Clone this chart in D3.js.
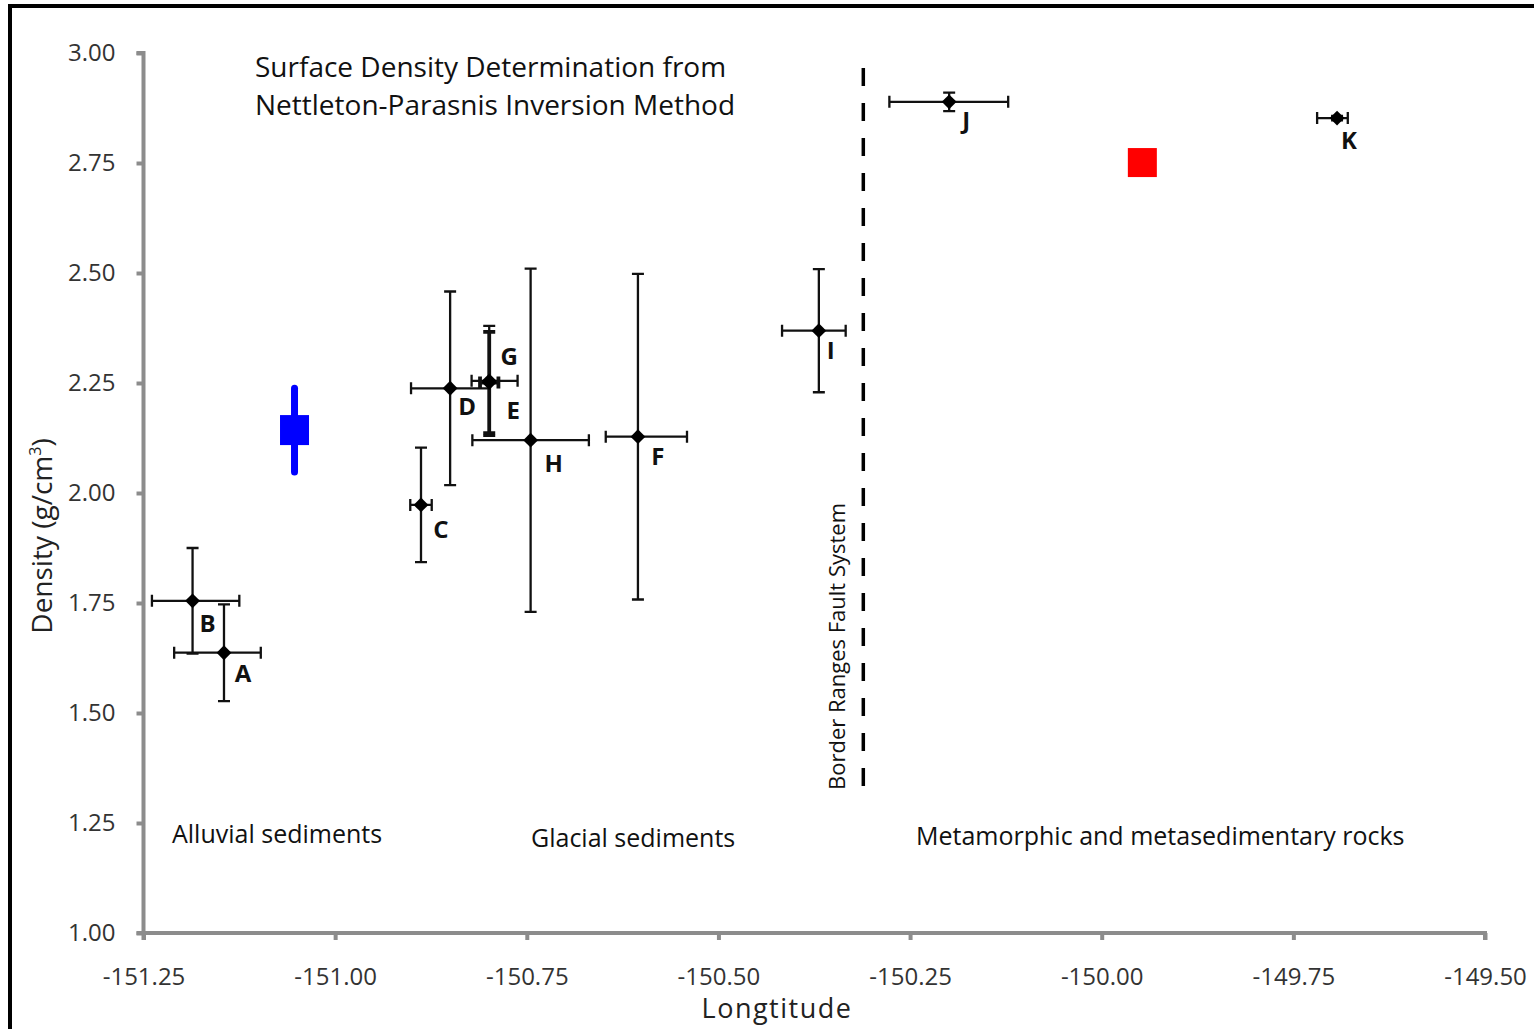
<!DOCTYPE html>
<html>
<head>
<meta charset="utf-8">
<script src="https://cdn.jsdelivr.net/npm/d3@7"></script>
<style>
  body { margin: 0; background: #fff; }
  text { font-family: "Open Sans", "Noto Sans", sans-serif; }
</style>
</head>
<body>
<div id="chart"></div>
<script>
// sample sites: label, longitude, density and error extents
const sites = ["A", "B", "C", "D", "E", "F", "G", "H", "I", "J", "K"];
const longitudes = [-151.145, -151.186, -150.888, -150.850, -150.799, -150.605, -150.799, -150.745, -150.369, -150.199, -149.693];
const densities = [1.637, 1.755, 1.973, 2.238, 2.255, 2.128, 2.251, 2.120, 2.369, 2.889, 2.852];
const lonErrLow = [0.065, 0.053, 0.014, 0.051, 0.023, 0.042, 0.012, 0.076, 0.048, 0.078, 0.026];
const lonErrHigh = [0.048, 0.061, 0.014, 0.051, 0.037, 0.064, 0.012, 0.076, 0.035, 0.077, 0.014];
const densErrors = [0.110, 0.120, 0.130, 0.220, 0.125, 0.370, 0.115, 0.390, 0.140, 0.021, 0.005];

// the two coloured markers
const blueMarker = { lon: -151.053, dens: 2.143, err: 0.095 };
const redMarker = { lon: -149.947, dens: 2.751 };

const faultLon = -150.311;

const xTicks = [-151.25, -151.00, -150.75, -150.50, -150.25, -150.00, -149.75, -149.50];
const yTicks = [1.00, 1.25, 1.50, 1.75, 2.00, 2.25, 2.50, 2.75, 3.00];

const width = 1534, height = 1029;

const svg = d3.select("#chart").append("svg")
    .attr("width", width)
    .attr("height", height);

// black frame on top and left
svg.append("line").attr("x1", 10).attr("y1", 6).attr("x2", width).attr("y2", 6)
    .attr("stroke", "#000").attr("stroke-width", 4);
svg.append("line").attr("x1", 10).attr("y1", 4).attr("x2", 10).attr("y2", height)
    .attr("stroke", "#000").attr("stroke-width", 4);

const x = d3.scaleLinear().domain([-151.25, -149.50]).range([143.5, 1485]);
const y = d3.scaleLinear().domain([1.0, 3.0]).range([933, 53]);

const fmt = function(d) { return d3.format(".2f")(d).replace("−", "-"); };

// axes
const xAxis = svg.append("g")
    .attr("transform", `translate(0, ${y(1.0)})`)
    .call(d3.axisBottom(x).tickValues(xTicks).tickFormat(fmt).tickSize(7).tickPadding(28));
const yAxis = svg.append("g")
    .attr("transform", `translate(${x(-151.25)}, 0)`)
    .call(d3.axisLeft(y).tickValues(yTicks).tickFormat(fmt).tickSize(7).tickPadding(21));

[xAxis, yAxis].forEach(function(a) {
    a.select(".domain").attr("stroke", "#8c8c8c").attr("stroke-width", 4);
    a.selectAll(".tick line").attr("stroke", "#8c8c8c").attr("stroke-width", 4);
    a.selectAll(".tick text").attr("fill", "#333").style("font-size", "24px");
});
xAxis.select(".domain").attr("d", `M${x(-151.25)},7V0H${x(-149.5)}V7`);
yAxis.select(".domain").attr("d", `M-7,${y(3)}H0V${y(1)}H-7`);

// axis titles
svg.append("text")
    .attr("x", 777).attr("y", 1018)
    .attr("text-anchor", "middle")
    .style("font-size", "27px").style("font-weight", 500)
    .style("letter-spacing", "1.5px")
    .attr("fill", "#222")
    .text("Longtitude");

const yTitle = svg.append("text")
    .attr("transform", "translate(52, 536) rotate(-90)")
    .attr("text-anchor", "middle")
    .style("font-size", "28px")
    .attr("fill", "#222");
yTitle.append("tspan").text("Density (g/cm");
yTitle.append("tspan").attr("dy", -11).style("font-size", "16px").text("3");
yTitle.append("tspan").attr("dy", 11).text(")");

// fault line
svg.append("line")
    .attr("x1", x(faultLon)).attr("x2", x(faultLon))
    .attr("y1", 68).attr("y2", 790)
    .attr("stroke", "#000").attr("stroke-width", 3.5)
    .attr("stroke-dasharray", "18,17");

svg.append("text")
    .attr("transform", `translate(845, 790) rotate(-90)`)
    .style("font-size", "22px")
    .attr("fill", "#111")
    .text("Border Ranges Fault System");

// region and title annotations
const notes = [
    { t: "Surface Density Determination from", x: 255, y: 77, s: 28 },
    { t: "Nettleton-Parasnis Inversion Method", x: 255, y: 115, s: 28 },
    { t: "Alluvial sediments", x: 172, y: 843, s: 25 },
    { t: "Glacial sediments", x: 531, y: 847, s: 25 },
    { t: "Metamorphic and metasedimentary rocks", x: 916, y: 845, s: 25 }
];
svg.selectAll(".note").data(notes).enter().append("text")
    .attr("class", "note")
    .attr("x", function(d) { return d.x; })
    .attr("y", function(d) { return d.y; })
    .style("font-size", function(d) { return d.s + "px"; })
    .attr("fill", "#111")
    .text(function(d) { return d.t; });

// error bars
const data = sites.map(function(s, i) {
    return { name: s, lon: longitudes[i], dens: densities[i], lo: lonErrLow[i], hi: lonErrHigh[i], ey: densErrors[i] };
});

const cap = 6;
const bars = svg.append("g").attr("stroke", "#111").attr("fill", "none");
data.forEach(function(d) {
    const cx = x(d.lon), cy = y(d.dens);
    const x0 = x(d.lon - d.lo), x1 = x(d.lon + d.hi);
    const y0 = y(d.dens + d.ey), y1 = y(d.dens - d.ey);
    const w = d.name === "G" ? 3.8 : 2.3;
    bars.append("path")
        .attr("stroke-width", w)
        .attr("d", `M${x0},${cy}H${x1}M${x0},${cy - cap}V${cy + cap}M${x1},${cy - cap}V${cy + cap}` +
                   `M${cx},${y0}V${y1}M${cx - cap},${y0}H${cx + cap}M${cx - cap},${y1}H${cx + cap}`);
});

// diamond markers
svg.selectAll(".pt").data(data).enter().append("path")
    .attr("class", "pt")
    .attr("transform", function(d) { return `translate(${x(d.lon)}, ${y(d.dens)})`; })
    .attr("d", d3.symbol().type(d3.symbolDiamond2).size(140))
    .attr("fill", "#000");

// point labels, offset from marker
const labelOffset = {
    A: [19, 29], B: [15, 31], C: [20, 33], D: [17, 27], E: [24, 38], F: [20, 28],
    G: [20, -18], H: [23, 32], I: [12, 28], J: [17, 27], K: [12, 31]
};
svg.selectAll(".lab").data(data).enter().append("text")
    .attr("class", "lab")
    .attr("x", function(d) { return x(d.lon) + labelOffset[d.name][0]; })
    .attr("y", function(d) { return y(d.dens) + labelOffset[d.name][1]; })
    .attr("text-anchor", "middle")
    .style("font-size", "24px").style("font-weight", 700)
    .attr("fill", "#111")
    .text(function(d) { return d.name; });

// blue marker with error bar
const bx = x(blueMarker.lon), by = y(blueMarker.dens);
svg.append("line")
    .attr("x1", bx).attr("x2", bx)
    .attr("y1", y(blueMarker.dens + blueMarker.err)).attr("y2", y(blueMarker.dens - blueMarker.err))
    .attr("stroke", "#0000ff").attr("stroke-width", 7).attr("stroke-linecap", "round");
svg.append("rect")
    .attr("x", bx - 14.5).attr("y", by - 15).attr("width", 29).attr("height", 30)
    .attr("fill", "#0000ff");

// red marker
svg.append("rect")
    .attr("x", x(redMarker.lon) - 14.5).attr("y", y(redMarker.dens) - 14.5)
    .attr("width", 29).attr("height", 29)
    .attr("fill", "#ff0000");
</script>
</body>
</html>
